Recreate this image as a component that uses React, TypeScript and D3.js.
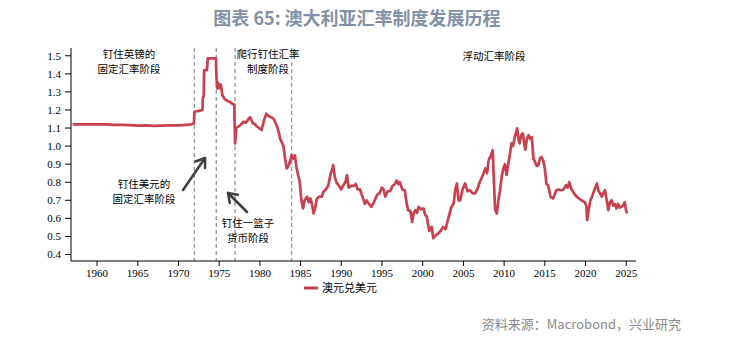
import React from "react";
import * as d3 from "d3";

const years: number[] = [
  1957.0, 1958, 1959, 1960, 1961, 1962, 1963, 1964, 1965, 1966, 1967, 1968, 1969, 1970, 1971, 1971.5, 1971.9,
  1971.95, 1972.5, 1972.95, 1973.0, 1973.1, 1973.15, 1973.5, 1973.6, 1974.6, 1974.65, 1974.75, 1974.9, 1975.0,
  1975.2, 1975.4, 1975.7, 1976.0, 1976.3, 1976.6, 1976.85, 1976.95, 1977.1, 1977.4, 1977.7, 1978.0, 1978.3,
  1978.6, 1978.8, 1979.1, 1979.4, 1979.6, 1979.9, 1980.2, 1980.5, 1980.8, 1981.1, 1981.4, 1981.7, 1982.1,
  1982.3, 1982.5, 1982.7, 1982.9, 1983.1, 1983.3, 1983.6, 1983.9, 1984.1, 1984.3, 1984.5, 1984.7, 1984.9,
  1985.1, 1985.3, 1985.5, 1985.8, 1986.0, 1986.2, 1986.4, 1986.6, 1986.8, 1987.0, 1987.3, 1987.6, 1987.8,
  1988.1, 1988.4, 1988.7, 1988.9, 1989.0, 1989.2, 1989.4, 1989.7, 1990.0, 1990.2, 1990.5, 1990.7, 1990.9,
  1991.2, 1991.5, 1991.8, 1992.0, 1992.3, 1992.6, 1992.9, 1993.1, 1993.4, 1993.7, 1994.0, 1994.4, 1994.7,
  1995.0, 1995.2, 1995.4, 1995.7, 1996.0, 1996.3, 1996.6, 1996.8, 1997.0, 1997.2, 1997.5, 1997.8, 1998.0,
  1998.2, 1998.5, 1998.7, 1998.9, 1999.1, 1999.3, 1999.5, 1999.8, 2000.1, 2000.3, 2000.5, 2000.8, 2001.1,
  2001.3, 2001.6, 2001.9, 2002.2, 2002.5, 2002.8, 2003.2, 2003.5, 2003.8, 2004.0, 2004.2, 2004.4, 2004.6,
  2004.9, 2005.2, 2005.5, 2005.8, 2006.1, 2006.4, 2006.7, 2007.0, 2007.3, 2007.7, 2007.9, 2008.1, 2008.4,
  2008.6, 2008.75, 2008.9, 2009.1, 2009.3, 2009.5, 2009.7, 2009.9, 2010.1, 2010.3, 2010.5, 2010.7, 2010.9,
  2011.1, 2011.3, 2011.5, 2011.6, 2011.75, 2011.9, 2012.1, 2012.3, 2012.45, 2012.6, 2012.8, 2013.0, 2013.2,
  2013.4, 2013.6, 2013.8, 2014.0, 2014.2, 2014.4, 2014.6, 2014.8, 2015.0, 2015.2, 2015.4, 2015.7, 2016.0,
  2016.2, 2016.4, 2016.7, 2017.0, 2017.3, 2017.6, 2017.8, 2018.0, 2018.3, 2018.6, 2018.9, 2019.2, 2019.5,
  2019.9, 2020.1, 2020.2, 2020.4, 2020.6, 2020.8, 2021.0, 2021.2, 2021.4, 2021.6, 2021.8, 2022.0, 2022.2,
  2022.4, 2022.6, 2022.8, 2023.0, 2023.2, 2023.4, 2023.6, 2023.8, 2024.0, 2024.2, 2024.4, 2024.6, 2024.8,
  2025.0, 2025.1,
];

const audusd: number[] = [
  1.12, 1.12, 1.12, 1.12, 1.12, 1.117, 1.118, 1.116, 1.113, 1.115, 1.112, 1.113, 1.115, 1.115, 1.118, 1.12, 1.125,
  1.19, 1.195, 1.2, 1.27, 1.275, 1.42, 1.42, 1.486, 1.486, 1.4, 1.32, 1.35, 1.32,
  1.34, 1.28, 1.26, 1.25, 1.245, 1.235, 1.23, 1.015, 1.1, 1.11, 1.12, 1.135, 1.13,
  1.15, 1.16, 1.13, 1.12, 1.11, 1.1, 1.09, 1.14, 1.18, 1.165, 1.16, 1.15, 1.11,
  1.08, 1.04, 1.02, 1.0, 0.93, 0.876, 0.9, 0.95, 0.93, 0.95, 0.88, 0.84, 0.8,
  0.7, 0.655, 0.7, 0.72, 0.69, 0.71, 0.68, 0.627, 0.66, 0.71, 0.72, 0.72, 0.746,
  0.76, 0.78, 0.85, 0.87, 0.895, 0.83, 0.8, 0.78, 0.76, 0.78, 0.8, 0.84, 0.77,
  0.78, 0.78, 0.79, 0.76, 0.76, 0.72, 0.68, 0.7, 0.68, 0.664, 0.69, 0.73, 0.74,
  0.77, 0.76, 0.72, 0.75, 0.75, 0.78, 0.79, 0.81, 0.79, 0.8, 0.76, 0.756, 0.69,
  0.645, 0.64, 0.58, 0.63, 0.645, 0.63, 0.664, 0.65, 0.655, 0.62, 0.61, 0.53, 0.553,
  0.49, 0.507, 0.516, 0.53, 0.553, 0.54, 0.61, 0.66, 0.682, 0.76, 0.793, 0.7, 0.7,
  0.76, 0.793, 0.75, 0.756, 0.74, 0.738, 0.76, 0.8, 0.83, 0.876, 0.85, 0.922, 0.95,
  0.978, 0.8, 0.645, 0.627, 0.7, 0.756, 0.83, 0.876, 0.9, 0.84, 0.9, 0.95, 1.015,
  1.0, 1.05, 1.08, 1.098, 1.04, 1.015, 1.06, 1.07, 1.02, 0.98, 1.04, 1.06, 1.04,
  1.05, 0.93, 0.913, 0.89, 0.895, 0.93, 0.94, 0.92, 0.876, 0.79, 0.784, 0.72, 0.71,
  0.73, 0.756, 0.76, 0.756, 0.76, 0.784, 0.77, 0.8, 0.76, 0.738, 0.72, 0.71, 0.7,
  0.69, 0.67, 0.59, 0.65, 0.7, 0.72, 0.747, 0.77, 0.793, 0.75, 0.738, 0.72, 0.74,
  0.756, 0.7, 0.645, 0.69, 0.7, 0.67, 0.68, 0.655, 0.68, 0.66, 0.664, 0.67, 0.69,
  0.64, 0.627,
];

const yTicks: number[] = [0.4, 0.5, 0.6, 0.7, 0.8, 0.9, 1.0, 1.1, 1.2, 1.3, 1.4, 1.5];
const xTicks: number[] = [1960, 1965, 1970, 1975, 1980, 1985, 1990, 1995, 2000, 2005, 2010, 2015, 2020, 2025];
const regimeBreaks: number[] = [1971.95, 1974.65, 1976.95, 1983.9];

const titleText = "图表 65: 澳大利亚汇率制度发展历程";
const seriesName = "澳元兑美元";
const sourceText = "资料来源：Macrobond，兴业研究";

const RED = "#c8414f";
const CJK = "'Noto Sans CJK SC', 'Noto Sans', sans-serif";
const SERIF = "'Liberation Serif', 'DejaVu Serif', serif";

function Arrow({ x1, y1, x2, y2 }: { x1: number; y1: number; x2: number; y2: number }) {
  const ang = Math.atan2(y2 - y1, x2 - x1);
  const L = 10;
  const a = (35 * Math.PI) / 180;
  const p1 = [x2 - L * Math.cos(ang - a), y2 - L * Math.sin(ang - a)];
  const p2 = [x2 - L * Math.cos(ang + a), y2 - L * Math.sin(ang + a)];
  return (
    <g stroke="#404040" strokeWidth={2.6} fill="none" strokeLinecap="round" strokeLinejoin="round">
      <line x1={x1} y1={y1} x2={x2} y2={y2} />
      <polyline points={`${p1[0]},${p1[1]} ${x2},${y2} ${p2[0]},${p2[1]}`} />
    </g>
  );
}

function TwoLine({ cx, y1, lines }: { cx: number; y1: number; lines: string[] }) {
  return (
    <>
      {lines.map((s, i) => (
        <text key={i} x={cx} y={y1 + i * 14.5}>
          {s}
        </text>
      ))}
    </>
  );
}

export default function App() {
  const x = d3.scaleLinear().domain([1956.8, 2026.2]).range([71, 636]);
  const y = d3.scaleLinear().domain([0.364, 1.543]).range([261, 48]);
  const data = years.map((yr, i) => [yr, audusd[i]] as [number, number]);
  const line = d3
    .line<[number, number]>()
    .x((d) => x(d[0]))
    .y((d) => y(d[1]));

  const axisBottom = 261;
  const axisTop = 48;

  return (
    <div style={{ position: "absolute", left: 0, top: 0 }}>
      <svg width={729} height={340} style={{ display: "block", background: "#fff" }}>
        <text x={357} y={25} textAnchor="middle" fontFamily={CJK} fontWeight="bold" fontSize={18} fill="#8391a6">
          {titleText}
        </text>

        {regimeBreaks.map((b) => (
          <line
            key={b}
            x1={x(b)}
            x2={x(b)}
            y1={axisTop}
            y2={axisBottom}
            stroke="#9a9a9a"
            strokeWidth={1.4}
            strokeDasharray="4,3"
          />
        ))}

        <path d={line(data) || ""} fill="none" stroke={RED} strokeWidth={2.7} strokeLinejoin="round" />

        {/* y axis */}
        <line x1={71} x2={71} y1={axisTop} y2={axisBottom} stroke="#000" strokeWidth={1} />
        {yTicks.map((t) => (
          <g key={t}>
            <line x1={65} x2={71} y1={y(t)} y2={y(t)} stroke="#000" strokeWidth={1} />
            <text x={61} y={y(t) + 4} textAnchor="end" fontFamily={SERIF} fontSize={11} fill="#000">
              {t.toFixed(1)}
            </text>
          </g>
        ))}

        {/* x axis */}
        <line x1={71} x2={636} y1={axisBottom} y2={axisBottom} stroke="#000" strokeWidth={1} />
        {xTicks.map((t) => (
          <g key={t}>
            <line x1={x(t)} x2={x(t)} y1={axisBottom} y2={axisBottom + 5} stroke="#000" strokeWidth={1} />
            <text x={x(t)} y={axisBottom + 16} textAnchor="middle" fontFamily={SERIF} fontSize={11} fill="#000">
              {t}
            </text>
          </g>
        ))}

        {/* annotations */}
        <g fontFamily={CJK} fontSize={10.5} fill="#000" textAnchor="middle">
          <TwoLine cx={129} y1={58} lines={["钉住英镑的", "固定汇率阶段"]} />
          <TwoLine cx={268} y1={58} lines={["爬行钉住汇率", "制度阶段"]} />
          <text x={494} y={60}>浮动汇率阶段</text>
          <TwoLine cx={144} y1={188} lines={["钉住美元的", "固定汇率阶段"]} />
          <TwoLine cx={248} y1={227} lines={["钉住一篮子", "货币阶段"]} />
        </g>
        <Arrow x1={183} y1={190} x2={205} y2={158} />
        <Arrow x1={247} y1={212} x2={228} y2={193} />

        {/* legend */}
        <line x1={304} x2={318} y1={288} y2={288} stroke={RED} strokeWidth={3} />
        <text x={322} y={292} fontFamily={CJK} fontSize={11} fill="#000">
          {seriesName}
        </text>

        <text x={681} y={329} textAnchor="end" fontFamily={CJK} fontSize={13} fill="#8a8a8a">
          {sourceText}
        </text>
      </svg>
    </div>
  );
}
